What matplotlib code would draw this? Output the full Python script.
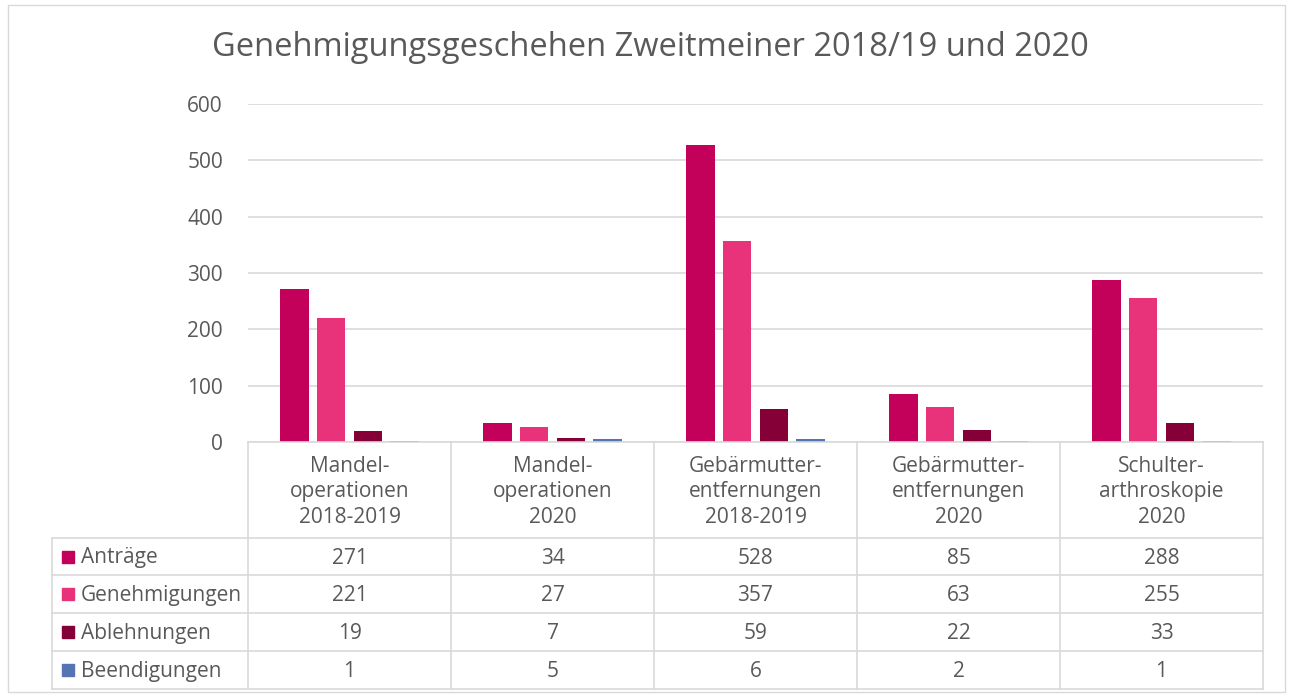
import matplotlib.pyplot as plt
from matplotlib.patches import Rectangle

plt.rcParams['font.family'] = ['Open Sans', 'DejaVu Sans']

# --- chart data ---
categories = ['Mandel-\noperationen\n2018-2019', 'Mandel-\noperationen\n2020',
              'Gebärmutter-\nentfernungen\n2018-2019', 'Gebärmutter-\nentfernungen\n2020',
              'Schulter-\narthroskopie\n2020']
series_names = ['Anträge', 'Genehmigungen', 'Ablehnungen', 'Beendigungen']
antraege = [271, 34, 528, 85, 288]
genehmigungen = [221, 27, 357, 63, 255]
ablehnungen = [19, 7, 59, 22, 33]
beendigungen = [1, 5, 6, 2, 1]
colors = ['#C3005A', '#E8337A', '#850036', '#5673B3']

series = [antraege, genehmigungen, ablehnungen, beendigungen]
title = 'Genehmigungsgeschehen Zweitmeiner 2018/19 und 2020'

W, H = 1291, 697
TXT = '#595959'
GRID = '#D9D9D9'
FS = 15

fig = plt.figure(figsize=(W / 100, H / 100), dpi=100)

# outer chart frame
fig.add_artist(Rectangle((8 / W, 1 - 692 / H), (1285 - 8) / W, (692 - 5) / H,
                         transform=fig.transFigure, fill=False, edgecolor=GRID, lw=1))

fig.text(650 / W, 1 - 48 / H, title, ha='center', va='center', fontsize=23.5, color=TXT)

# --- bar area ---
ax = fig.add_axes([248 / W, 1 - 442 / H, (1263 - 248) / W, (442 - 104) / H])
n = len(categories)
for k, (vals, col) in enumerate(zip(series, colors)):
    xs = [i + 0.5 + (k - 1.5) * 0.18 for i in range(n)]
    ax.bar(xs, vals, width=0.14, color=col, zorder=3)
ax.set_xlim(0, n)
ax.set_ylim(0, 600)
ax.set_yticks(range(0, 601, 100))
ax.set_xticks([])
ax.grid(axis='y', color=GRID, lw=1.2, zorder=0)
for s in ax.spines.values():
    s.set_visible(False)
ax.tick_params(axis='y', length=0, pad=18, labelsize=FS, labelcolor=TXT)

# --- data table ---
label_w = (248 - 52) / 203
tax = fig.add_axes([52 / W, 1 - 689 / H, (1263 - 52) / W, (689 - 442) / H])
tax.set_xlim(-label_w, n)
tax.set_ylim(247, 0)
tax.axis('off')
rows = [0, 96, 133, 171, 209, 247]
lkw = dict(color=GRID, lw=1.2, clip_on=False)
tax.plot([0, n], [0, 0], **lkw)
for y in rows[1:]:
    tax.plot([-label_w, n], [y, y], **lkw)
for x in range(n + 1):
    tax.plot([x, x], [0, 247], **lkw)
tax.plot([-label_w, -label_w], [rows[1], 247], **lkw)

for i, cat in enumerate(categories):
    tax.text(i + 0.5, 50, cat, ha='center', va='center', fontsize=FS, color=TXT,
             linespacing=1.3)

for r, (name, vals, col) in enumerate(zip(series_names, series, colors)):
    yc = (rows[r + 1] + rows[r + 2]) / 2
    tax.add_patch(Rectangle(((62 - 248) / 203, yc - 6), 12 / 203, 12, color=col, clip_on=False))
    tax.text((81 - 248) / 203, yc + 1.5, name, ha='left', va='center', fontsize=FS, color=TXT)
    for i, v in enumerate(vals):
        tax.text(i + 0.5, yc + 1.5, str(v), ha='center', va='center', fontsize=FS, color=TXT)

fig.savefig('out.png', dpi=100)
